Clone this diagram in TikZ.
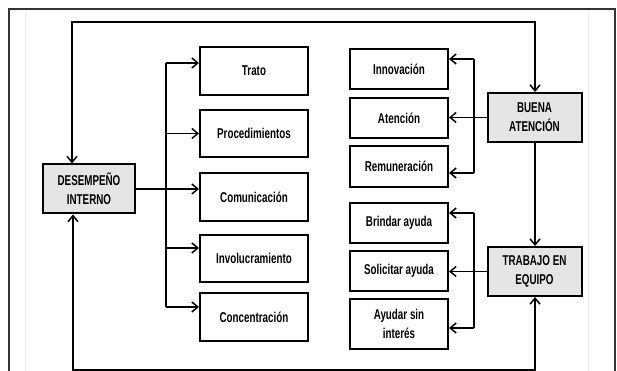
\documentclass[tikz,border=0pt]{standalone}
\usepackage{fontspec}
\setmainfont{Liberation Sans}[FakeStretch=0.69]
\usetikzlibrary{arrows.meta}

\begin{document}
\begin{tikzpicture}[x=0.4mm, y=-0.4mm, >={Straight Barb[length=2.4mm,width=4mm]},
  box/.style={draw=black, line width=0.8mm, inner sep=0pt, align=center, font=\fontsize{16.2}{21.5}\selectfont\bfseries},
  big/.style={box, fill=black!10, minimum width=37.6mm, minimum height=19.6mm},
  lbox/.style={box, minimum width=43.2mm, minimum height=19mm},
  rbox/.style={box, minimum width=39.2mm, minimum height=16mm},
  wire/.style={line width=0.6mm}]
\useasboundingbox (0,0) rectangle (617,371);
\draw[black!8, line width=0.3mm] (25,9) -- (25,371);
\draw[black!8, line width=0.3mm] (588,9) -- (588,371);
\draw[black!80, line width=0.7mm] (9,371) -- (9,9) -- (615,9) -- (615,371);
\node[big, minimum width=36.8mm] (des) at (89,189) {DESEMPEÑO\\INTERNO};
\node[big] (buena) at (534.5,117.5) {BUENA\\ATENCIÓN};
\node[big] (trab) at (534.5,271.5) {TRABAJO EN\\EQUIPO};
\node[lbox] (trato) at (254,71) {Trato};
\node[lbox] (proc) at (254,133.5) {Procedimientos};
\node[lbox] (comu) at (254,197) {Comunicación};
\node[lbox] (invo) at (254,258.5) {Involucramiento};
\node[lbox] (conc) at (254,317) {Concentración};
\node[rbox] (inno) at (399,69) {Innovación};
\node[rbox] (aten) at (399,118) {Atención};
\node[rbox, minimum height=16.4mm] (remu) at (399,166.5) {Remuneración};
\node[rbox] (brin) at (399,223) {Brindar ayuda};
\node[rbox] (soli) at (399,271) {Solicitar ayuda};
\node[rbox, minimum height=20mm] (ayud) at (399,324) {Ayudar sin\\interés};
\coordinate (tl) at (72,22);
\coordinate (tr) at (535,22);
\coordinate (bl) at (73,370);
\coordinate (br) at (535,370);
\draw[wire, <->] (des.north -| tl) -- (tl) -- (tr) -- (buena.north -| tr);
\draw[wire, <->] (des.south -| bl) -- (bl) -- (br) -- (trab.south -| br);
\draw[wire, ->] (buena.south -| tr) -- (trab.north -| tr);
\draw[wire, ->] (des) -- (des -| comu.west);
\draw[wire] ([xshift=-13.2mm,yshift=3.2mm]trato.west) -- ([xshift=-13.2mm,yshift=4mm]conc.west);
\draw[wire, <-] ([yshift=3.2mm]trato.west) -- ++(-33,0);
\draw[wire, <-] (proc.west) -- ++(-33,0);
\draw[wire, <-] ([yshift=4.2mm]invo.west) -- ++(-33,0);
\draw[wire, <-] ([yshift=4mm]conc.west) -- ++(-33,0);
\draw[wire] ([xshift=10mm,yshift=4mm]inno.east) -- ([xshift=10mm,yshift=-2.6mm]remu.east);
\draw[wire, <-] ([yshift=4mm]inno.east) -- ++(25,0);
\draw[wire, <-] ([yshift=-2.6mm]remu.east) -- ++(25,0);
\draw[wire, ->] (buena.west) -- (buena.west -| aten.east);
\draw[wire] ([xshift=10mm,yshift=4mm]brin.east) -- ([xshift=10mm,yshift=-1.6mm]ayud.east);
\draw[wire, <-] ([yshift=4mm]brin.east) -- ++(25,0);
\draw[wire, <-] ([yshift=-1.6mm]ayud.east) -- ++(25,0);
\draw[wire, ->] (trab.west) -- (trab.west -| soli.east);
\end{tikzpicture}
\end{document}
